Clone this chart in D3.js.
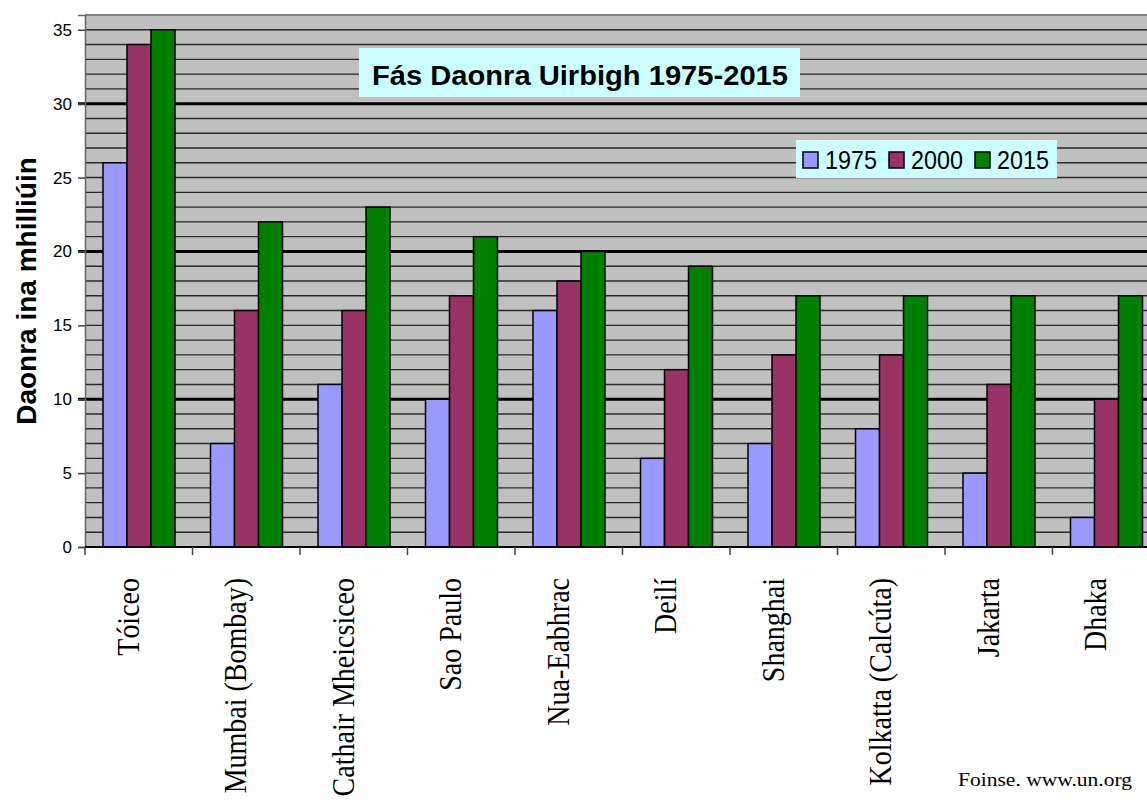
<!DOCTYPE html>
<html>
<head>
<meta charset="utf-8">
<script src="https://cdn.jsdelivr.net/npm/d3@7"></script>
<style>
  html, body { margin: 0; padding: 0; background: #fff; overflow: hidden; }
  svg { display: block; }
</style>
</head>
<body>
<div id="chart"></div>
<script>
// Urban population growth, 10 biggest cities (millions)
var cities = ["Tóiceo", "Mumbai (Bombay)", "Cathair Mheicsiceo", "Sao Paulo", "Nua-Eabhrac",
  "Deilí", "Shanghai", "Kolkatta (Calcúta)", "Jakarta", "Dhaka"];
var years = ["1975", "2000", "2015"];
var pop1975 = [26, 7, 11, 10, 16, 6, 7, 8, 5, 2];
var pop2000 = [34, 16, 16, 17, 18, 12, 13, 13, 11, 10];
var pop2015 = [35, 22, 23, 21, 20, 19, 17, 17, 17, 17];
var yTicks = [0, 5, 10, 15, 20, 25, 30, 35];
var colors = ["#9999FF", "#993366", "#008000"];

var svgWidth = 1147;
var svgHeight = 802;

// plot area (runs past the right edge of the window, like the original)
var plot = { left: 85, right: 1160, top: 15, bottom: 547 };

var svg = d3.select("#chart")
  .append("svg")
  .attr("width", svgWidth)
  .attr("height", svgHeight);

var x = d3.scaleBand()
  .domain(cities)
  .range([plot.left, plot.right]);

var xInner = d3.scaleBand()
  .domain(years)
  .range([18, 90]);

var y = d3.scaleLinear()
  .domain([0, 36])
  .range([plot.bottom, plot.top]);

// grey background
svg.append("rect")
  .attr("x", plot.left)
  .attr("y", plot.top)
  .attr("width", plot.right - plot.left)
  .attr("height", plot.bottom - plot.top)
  .attr("fill", "#C0C0C0");

// gridlines every 1 unit, heavier on 10s
var grid = svg.append("g");
d3.range(1, 37).forEach(function (v) {
  var major = v % 10 === 0;
  var isTop = v === 36;
  grid.append("line")
    .attr("x1", major ? plot.left - 7 : plot.left)
    .attr("x2", plot.right)
    .attr("y1", y(v))
    .attr("y2", y(v))
    .attr("stroke", isTop ? "#808080" : (major ? "#000" : "#2a2a2a"))
    .attr("stroke-width", major ? 3 : (isTop ? 2 : 1.4));
});

// y axis
var yAxis = svg.append("g")
  .attr("transform", `translate(${plot.left},0)`)
  .call(d3.axisLeft(y).tickValues(yTicks).tickSize(7).tickPadding(6));
yAxis.select(".domain").attr("stroke", "#666").attr("stroke-width", 1.5);
yAxis.selectAll(".tick line").attr("stroke", "#444").attr("stroke-width", 1.5);
yAxis.selectAll(".tick text")
  .attr("font-family", "Arial, 'Liberation Sans', sans-serif")
  .attr("font-size", 17)
  .attr("fill", "#000");

// bars
var series = [pop1975, pop2000, pop2015];
var barGroups = svg.append("g")
  .selectAll("g")
  .data(cities)
  .enter()
  .append("g")
  .attr("transform", d => `translate(${x(d)},0)`);

barGroups.selectAll("rect")
  .data((d, i) => years.map((yr, j) => ({ year: yr, value: series[j][i], color: colors[j] })))
  .enter()
  .append("rect")
  .attr("x", d => xInner(d.year))
  .attr("width", xInner.bandwidth())
  .attr("y", d => y(d.value))
  .attr("height", d => y(0) - y(d.value))
  .attr("fill", d => d.color)
  .attr("stroke", "#000")
  .attr("stroke-width", 1.5);

// x axis line and ticks at category boundaries
svg.append("line")
  .attr("x1", plot.left).attr("x2", plot.right)
  .attr("y1", plot.bottom).attr("y2", plot.bottom)
  .attr("stroke", "#000").attr("stroke-width", 2);

svg.append("g")
  .selectAll("line")
  .data(d3.range(cities.length + 1))
  .enter()
  .append("line")
  .attr("x1", i => plot.left + i * x.step())
  .attr("x2", i => plot.left + i * x.step())
  .attr("y1", plot.bottom)
  .attr("y2", plot.bottom + 8)
  .attr("stroke", "#444")
  .attr("stroke-width", 1.5);

// x labels, rotated
svg.append("g")
  .selectAll("text")
  .data(cities)
  .enter()
  .append("text")
  .attr("transform", d => `translate(${x(d) + x.bandwidth() / 2}, 578) rotate(-90) scale(1, 1.12)`)
  .attr("text-anchor", "end")
  .attr("font-family", "'Times New Roman', 'Liberation Serif', serif")
  .attr("font-size", 28)
  .attr("fill", "#000")
  .text(d => d);

// y axis title
svg.append("text")
  .attr("transform", "translate(36, 291) rotate(-90)")
  .attr("text-anchor", "middle")
  .attr("font-family", "Arial, 'Liberation Sans', sans-serif")
  .attr("font-weight", "bold")
  .attr("font-size", 28)
  .attr("fill", "#000")
  .text("Daonra ina mhilliúin");

// chart title box
svg.append("rect")
  .attr("x", 359).attr("y", 48)
  .attr("width", 441).attr("height", 49)
  .attr("fill", "#CCFFFF");

svg.append("text")
  .attr("x", 580)
  .attr("y", 85)
  .attr("text-anchor", "middle")
  .attr("font-family", "Arial, 'Liberation Sans', sans-serif")
  .attr("font-weight", "bold")
  .attr("font-size", 27)
  .attr("textLength", 416)
  .attr("lengthAdjust", "spacingAndGlyphs")
  .attr("fill", "#000")
  .text("Fás Daonra Uirbigh 1975-2015");

// legend
var legend = svg.append("g");
legend.append("rect")
  .attr("x", 796).attr("y", 140)
  .attr("width", 261).attr("height", 38)
  .attr("fill", "#CCFFFF");

var legendX = [803, 889, 975];
years.forEach(function (yr, j) {
  legend.append("rect")
    .attr("x", legendX[j]).attr("y", 152)
    .attr("width", 15).attr("height", 16)
    .attr("fill", colors[j])
    .attr("stroke", "#000")
    .attr("stroke-width", 1.5);
  legend.append("text")
    .attr("x", legendX[j] + 22)
    .attr("y", 169)
    .attr("font-family", "Arial, 'Liberation Sans', sans-serif")
    .attr("font-size", 25)
    .attr("textLength", 52)
    .attr("lengthAdjust", "spacingAndGlyphs")
    .attr("fill", "#000")
    .text(yr);
});

// source note
svg.append("text")
  .attr("x", 958)
  .attr("y", 786)
  .attr("font-family", "'Times New Roman', 'Liberation Serif', serif")
  .attr("font-size", 18)
  .attr("textLength", 174)
  .attr("lengthAdjust", "spacingAndGlyphs")
  .attr("fill", "#000")
  .text("Foinse. www.un.org");
</script>
</body>
</html>
